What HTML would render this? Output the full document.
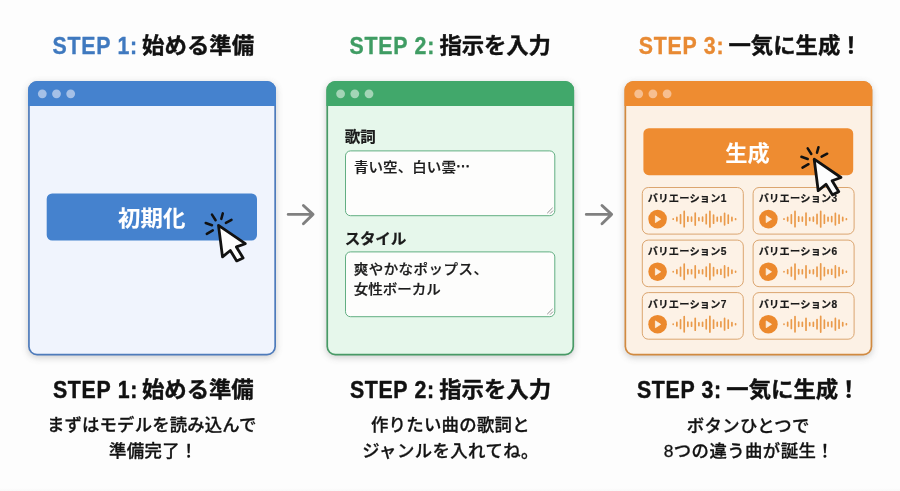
<!DOCTYPE html>
<html lang="ja">
<head>
<meta charset="utf-8">
<title>STEP 1-3</title>
<style>
html,body{margin:0;padding:0;background:#fdfdfd;}
body{width:900px;height:491px;overflow:hidden;font-family:"Liberation Sans","Noto Sans CJK JP",sans-serif;}
svg{display:block;font-family:"Liberation Sans","Noto Sans CJK JP",sans-serif;}
.tx{opacity:0.999;}
</style>
</head>
<body>
<svg class="tx" width="900" height="491" viewBox="0 0 900 491">
<defs>
<filter id="sh" x="-10%" y="-10%" width="120%" height="125%"><feGaussianBlur stdDeviation="3.5"/></filter>
<linearGradient id="bg" x1="0" y1="0" x2="0" y2="1"><stop offset="0" stop-color="#fdfdfd"/><stop offset="0.994" stop-color="#fdfdfd"/><stop offset="1" stop-color="#f8f8f8"/></linearGradient>
</defs>
<rect width="900" height="491" fill="url(#bg)"/>
<text transform="translate(52.50 53.65) scale(0.9 1)" font-size="23.7" font-weight="700" fill="#3f79bf" stroke="#3f79bf" stroke-width="0.35" stroke-linejoin="round" textLength="94.09" lengthAdjust="spacing">STEP 1:</text>
<text transform="translate(142.00 52.90) scale(1 0.95)" font-size="22.4" font-weight="700" fill="#111" stroke="#111" stroke-width="0.4" stroke-linejoin="round" textLength="112.20" lengthAdjust="spacing">始める準備</text>
<text transform="translate(349.60 53.65) scale(0.9 1)" font-size="23.7" font-weight="700" fill="#3f9c63" stroke="#3f9c63" stroke-width="0.35" stroke-linejoin="round" textLength="94.09" lengthAdjust="spacing">STEP 2:</text>
<text transform="translate(439.45 52.90) scale(1 0.95)" font-size="22.4" font-weight="700" fill="#111" stroke="#111" stroke-width="0.4" stroke-linejoin="round" textLength="111.45" lengthAdjust="spacing">指示を入力</text>
<text transform="translate(638.70 53.53) scale(0.9 1)" font-size="23.7" font-weight="700" fill="#e88a33" stroke="#e88a33" stroke-width="0.35" stroke-linejoin="round" textLength="94.37" lengthAdjust="spacing">STEP 3:</text>
<text transform="translate(728.45 52.90) scale(1 0.95)" font-size="22.4" font-weight="700" fill="#111" stroke="#111" stroke-width="0.4" stroke-linejoin="round">一気に生成<tspan dx="-0.7">！</tspan></text>
<rect x="28.1" y="83.1" width="247.9" height="274.4" rx="9" fill="#5a5a5a" opacity="0.30" filter="url(#sh)"/>
<rect x="28.1" y="81.1" width="247.9" height="274.4" rx="9" fill="#4e7bbb"/>
<path d="M28.1 106.1V90.1a9 9 0 0 1 9 -9H267.0a9 9 0 0 1 9 9V106.1Z" fill="#4582ce"/>
<path d="M29.8 106.1H274.3V346.5a7.3 7.3 0 0 1 -7.3 7.3H37.1a7.3 7.3 0 0 1 -7.3 -7.3Z" fill="#f0f4fd"/>
<circle cx="42.3" cy="93.8" r="4.4" fill="#a5c0e7"/>
<circle cx="56.5" cy="93.8" r="4.4" fill="#a5c0e7"/>
<circle cx="70.7" cy="93.8" r="4.4" fill="#a5c0e7"/>
<rect x="46.7" y="193.4" width="210.3" height="47.2" rx="5.5" fill="#4582ce"/>
<text transform="translate(118.10 225.52) scale(1 0.95)" font-size="22.4" font-weight="700" fill="#fff" stroke="#fff" stroke-width="0.1" stroke-linejoin="round" textLength="67.42" lengthAdjust="spacing">初期化</text>
<g transform="translate(218.5 225.4)">
<g stroke="#111" stroke-width="2.5" stroke-linecap="round" fill="none">
<path d="M-6.5 -10.8L-2.9 -5.2"/><path d="M4.3 -12L2.8 -6.5"/><path d="M13 -5.5L7.4 -2.5"/><path d="M-12.8 -2.4L-6.5 -0.2"/><path d="M-11.7 8.5L-5.7 5"/>
</g>
<path d="M0 0L4 31.5L11.8 25.1L18.2 35.5L24.6 32.5L17.9 21.5L26.8 18.3Z" fill="#fdfdfd" stroke="#111" stroke-width="2.8" stroke-linejoin="round"/>
</g>
<path d="M288.2 214.4H313M303.4 205.5L313 214.4L303.4 223.7" fill="none" stroke="#808080" stroke-width="2.9" stroke-linecap="round" stroke-linejoin="round"/>
<rect x="326.4" y="83.1" width="247.7" height="274.4" rx="9" fill="#5a5a5a" opacity="0.30" filter="url(#sh)"/>
<rect x="326.4" y="81.1" width="247.7" height="274.4" rx="9" fill="#489a66"/>
<path d="M326.4 106.1V90.1a9 9 0 0 1 9 -9H565.0999999999999a9 9 0 0 1 9 9V106.1Z" fill="#41a86b"/>
<path d="M328.09999999999997 106.1H572.4V346.5a7.3 7.3 0 0 1 -7.3 7.3H335.4a7.3 7.3 0 0 1 -7.3 -7.3Z" fill="#e6f7eb"/>
<circle cx="340.6" cy="93.8" r="4.4" fill="#a3d5b6"/>
<circle cx="354.8" cy="93.8" r="4.4" fill="#a3d5b6"/>
<circle cx="369.0" cy="93.8" r="4.4" fill="#a3d5b6"/>
<text transform="translate(344.75 142.05) scale(1 0.97)" font-size="15.6" font-weight="700" fill="#1a1a1a" stroke="#1a1a1a" stroke-width="0.25" stroke-linejoin="round" textLength="31.20" lengthAdjust="spacing">歌詞</text>
<rect x="345.5" y="150.9" width="209.3" height="64.8" rx="5" fill="#fdfdfc" stroke="#62ae82" stroke-width="1"/>
<text transform="translate(353.95 171.55) scale(1 0.95)" font-size="14.5" font-weight="500" fill="#1c1c1c" stroke="#1c1c1c" stroke-width="0.25" stroke-linejoin="round" textLength="102.00" lengthAdjust="spacing">青い空、白い雲</text>
<text x="455.70" y="166.77" font-size="14.5" font-weight="500" fill="#1c1c1c" stroke="#1c1c1c" stroke-width="0.8" stroke-linejoin="round">…</text>
<path d="M547.2 213.2L552.6 207.8M550 213.6L553 210.6" stroke="#777" stroke-width="0.8" fill="none"/>
<text transform="translate(344.65 243.82) scale(1 0.97)" font-size="15.6" font-weight="700" fill="#1a1a1a" stroke="#1a1a1a" stroke-width="0.25" stroke-linejoin="round" textLength="61.64" lengthAdjust="spacing">スタイル</text>
<rect x="345.5" y="251.9" width="209.3" height="64.8" rx="5" fill="#fdfdfc" stroke="#62ae82" stroke-width="1"/>
<text transform="translate(353.70 273.83) scale(1 0.95)" font-size="14.5" font-weight="500" fill="#1c1c1c" stroke="#1c1c1c" stroke-width="0.25" stroke-linejoin="round" textLength="134.25" lengthAdjust="spacing">爽やかなポップス、</text>
<text transform="translate(353.70 293.75) scale(1 0.95)" font-size="14.5" font-weight="500" fill="#1c1c1c" stroke="#1c1c1c" stroke-width="0.25" stroke-linejoin="round" textLength="87.00" lengthAdjust="spacing">女性ボーカル</text>
<path d="M547.2 314.2L552.6 308.8M550 314.6L553 311.6" stroke="#777" stroke-width="0.8" fill="none"/>
<path d="M586.3 214.4H611.6M602.0 205.5L611.6 214.4L602.0 223.7" fill="none" stroke="#808080" stroke-width="2.9" stroke-linecap="round" stroke-linejoin="round"/>
<rect x="624.5" y="83.1" width="247.8" height="274.4" rx="9" fill="#5a5a5a" opacity="0.30" filter="url(#sh)"/>
<rect x="624.5" y="81.1" width="247.8" height="274.4" rx="9" fill="#d18a40"/>
<path d="M624.5 106.1V90.1a9 9 0 0 1 9 -9H863.3a9 9 0 0 1 9 9V106.1Z" fill="#ee8c31"/>
<path d="M626.2 106.1H870.6V346.5a7.3 7.3 0 0 1 -7.3 7.3H633.5a7.3 7.3 0 0 1 -7.3 -7.3Z" fill="#fcf1e5"/>
<circle cx="638.7" cy="93.8" r="4.4" fill="#f7bf90"/>
<circle cx="652.9" cy="93.8" r="4.4" fill="#f7bf90"/>
<circle cx="667.1" cy="93.8" r="4.4" fill="#f7bf90"/>
<rect x="643.4" y="128.2" width="209.8" height="47" rx="5.5" fill="#ee8c31"/>
<text transform="translate(725.15 160.62) scale(1 0.95)" font-size="22.2" font-weight="700" fill="#fff" stroke="#fff" stroke-width="0.1" stroke-linejoin="round" textLength="44.63" lengthAdjust="spacing">生成</text>
<rect x="642.3" y="187.5" width="101" height="46.6" rx="6" fill="#fdf2e6" stroke="#dba56f" stroke-width="1"/>
<text x="647.85" y="202.48" font-size="10.2" font-weight="700" fill="#1a1a1a" stroke="#1a1a1a" stroke-width="0.2" stroke-linejoin="round" textLength="78.53" lengthAdjust="spacing">バリエーション1</text>
<circle cx="657.6" cy="219.1" r="9.3" fill="#ec892d"/>
<path d="M655.4 215.8L660.7 219.2L655.4 222.6Z" fill="#fdeedd" stroke="#fdeedd" stroke-width="0.8" stroke-linejoin="round"/>
<path d="M673.20 218.95V219.25M676.87 217.35V220.85M680.54 214.85V223.35M684.21 211.45V226.75M687.88 216.95V221.25M691.55 217.15V221.05M695.22 213.15V225.05M698.89 217.75V220.45M702.56 217.15V221.05M706.23 214.45V223.75M709.90 211.25V226.95M713.57 215.05V223.15M717.24 217.25V220.95M720.91 216.65V221.55M724.58 213.35V224.85M728.25 215.05V223.15M731.92 217.45V220.75M735.59 218.75V219.45" stroke="#ea9a4a" stroke-width="1.7" stroke-linecap="round" fill="none"/>
<rect x="753.1" y="187.5" width="101" height="46.6" rx="6" fill="#fdf2e6" stroke="#dba56f" stroke-width="1"/>
<text x="758.65" y="202.48" font-size="10.2" font-weight="700" fill="#1a1a1a" stroke="#1a1a1a" stroke-width="0.2" stroke-linejoin="round" textLength="78.53" lengthAdjust="spacing">バリエーション3</text>
<circle cx="768.4" cy="219.1" r="9.3" fill="#ec892d"/>
<path d="M766.2 215.8L771.5 219.2L766.2 222.6Z" fill="#fdeedd" stroke="#fdeedd" stroke-width="0.8" stroke-linejoin="round"/>
<path d="M784.00 218.95V219.25M787.67 217.35V220.85M791.34 214.85V223.35M795.01 211.45V226.75M798.68 216.95V221.25M802.35 217.15V221.05M806.02 213.15V225.05M809.69 217.75V220.45M813.36 217.15V221.05M817.03 214.45V223.75M820.70 211.25V226.95M824.37 215.05V223.15M828.04 217.25V220.95M831.71 216.65V221.55M835.38 213.35V224.85M839.05 215.05V223.15M842.72 217.45V220.75M846.39 218.75V219.45" stroke="#ea9a4a" stroke-width="1.7" stroke-linecap="round" fill="none"/>
<rect x="642.3" y="240.1" width="101" height="46.6" rx="6" fill="#fdf2e6" stroke="#dba56f" stroke-width="1"/>
<text x="647.85" y="255.08" font-size="10.2" font-weight="700" fill="#1a1a1a" stroke="#1a1a1a" stroke-width="0.2" stroke-linejoin="round" textLength="78.53" lengthAdjust="spacing">バリエーション5</text>
<circle cx="657.6" cy="271.7" r="9.3" fill="#ec892d"/>
<path d="M655.4 268.4L660.7 271.8L655.4 275.2Z" fill="#fdeedd" stroke="#fdeedd" stroke-width="0.8" stroke-linejoin="round"/>
<path d="M673.20 271.55V271.85M676.87 269.95V273.45M680.54 267.45V275.95M684.21 264.05V279.35M687.88 269.55V273.85M691.55 269.75V273.65M695.22 265.75V277.65M698.89 270.35V273.05M702.56 269.75V273.65M706.23 267.05V276.35M709.90 263.85V279.55M713.57 267.65V275.75M717.24 269.85V273.55M720.91 269.25V274.15M724.58 265.95V277.45M728.25 267.65V275.75M731.92 270.05V273.35M735.59 271.35V272.05" stroke="#ea9a4a" stroke-width="1.7" stroke-linecap="round" fill="none"/>
<rect x="753.1" y="240.1" width="101" height="46.6" rx="6" fill="#fdf2e6" stroke="#dba56f" stroke-width="1"/>
<text x="758.65" y="255.08" font-size="10.2" font-weight="700" fill="#1a1a1a" stroke="#1a1a1a" stroke-width="0.2" stroke-linejoin="round" textLength="78.53" lengthAdjust="spacing">バリエーション6</text>
<circle cx="768.4" cy="271.7" r="9.3" fill="#ec892d"/>
<path d="M766.2 268.4L771.5 271.8L766.2 275.2Z" fill="#fdeedd" stroke="#fdeedd" stroke-width="0.8" stroke-linejoin="round"/>
<path d="M784.00 271.55V271.85M787.67 269.95V273.45M791.34 267.45V275.95M795.01 264.05V279.35M798.68 269.55V273.85M802.35 269.75V273.65M806.02 265.75V277.65M809.69 270.35V273.05M813.36 269.75V273.65M817.03 267.05V276.35M820.70 263.85V279.55M824.37 267.65V275.75M828.04 269.85V273.55M831.71 269.25V274.15M835.38 265.95V277.45M839.05 267.65V275.75M842.72 270.05V273.35M846.39 271.35V272.05" stroke="#ea9a4a" stroke-width="1.7" stroke-linecap="round" fill="none"/>
<rect x="642.3" y="292.6" width="101" height="46.6" rx="6" fill="#fdf2e6" stroke="#dba56f" stroke-width="1"/>
<text x="647.85" y="307.58" font-size="10.2" font-weight="700" fill="#1a1a1a" stroke="#1a1a1a" stroke-width="0.2" stroke-linejoin="round" textLength="78.53" lengthAdjust="spacing">バリエーション7</text>
<circle cx="657.6" cy="324.2" r="9.3" fill="#ec892d"/>
<path d="M655.4 320.9L660.7 324.3L655.4 327.7Z" fill="#fdeedd" stroke="#fdeedd" stroke-width="0.8" stroke-linejoin="round"/>
<path d="M673.20 324.05V324.35M676.87 322.45V325.95M680.54 319.95V328.45M684.21 316.55V331.85M687.88 322.05V326.35M691.55 322.25V326.15M695.22 318.25V330.15M698.89 322.85V325.55M702.56 322.25V326.15M706.23 319.55V328.85M709.90 316.35V332.05M713.57 320.15V328.25M717.24 322.35V326.05M720.91 321.75V326.65M724.58 318.45V329.95M728.25 320.15V328.25M731.92 322.55V325.85M735.59 323.85V324.55" stroke="#ea9a4a" stroke-width="1.7" stroke-linecap="round" fill="none"/>
<rect x="753.1" y="292.6" width="101" height="46.6" rx="6" fill="#fdf2e6" stroke="#dba56f" stroke-width="1"/>
<text x="758.65" y="307.58" font-size="10.2" font-weight="700" fill="#1a1a1a" stroke="#1a1a1a" stroke-width="0.2" stroke-linejoin="round" textLength="78.53" lengthAdjust="spacing">バリエーション8</text>
<circle cx="768.4" cy="324.2" r="9.3" fill="#ec892d"/>
<path d="M766.2 320.9L771.5 324.3L766.2 327.7Z" fill="#fdeedd" stroke="#fdeedd" stroke-width="0.8" stroke-linejoin="round"/>
<path d="M784.00 324.05V324.35M787.67 322.45V325.95M791.34 319.95V328.45M795.01 316.55V331.85M798.68 322.05V326.35M802.35 322.25V326.15M806.02 318.25V330.15M809.69 322.85V325.55M813.36 322.25V326.15M817.03 319.55V328.85M820.70 316.35V332.05M824.37 320.15V328.25M828.04 322.35V326.05M831.71 321.75V326.65M835.38 318.45V329.95M839.05 320.15V328.25M842.72 322.55V325.85M846.39 323.85V324.55" stroke="#ea9a4a" stroke-width="1.7" stroke-linecap="round" fill="none"/>
<g transform="translate(814.2 159.2)">
<g stroke="#111" stroke-width="2.5" stroke-linecap="round" fill="none">
<path d="M-6.5 -10.8L-2.9 -5.2"/><path d="M4.3 -12L2.8 -6.5"/><path d="M13 -5.5L7.4 -2.5"/><path d="M-12.8 -2.4L-6.5 -0.2"/><path d="M-11.7 8.5L-5.7 5"/>
</g>
<path d="M0 0L4 31.5L11.8 25.1L18.2 35.5L24.6 32.5L17.9 21.5L26.8 18.3Z" fill="#fdfdfd" stroke="#111" stroke-width="2.8" stroke-linejoin="round"/>
</g>
<text transform="translate(52.90 397.88) scale(0.9 1)" font-size="23.7" font-weight="700" fill="#111" stroke="#111" stroke-width="0.45" stroke-linejoin="round" textLength="93.81" lengthAdjust="spacing">STEP 1:</text>
<text transform="translate(142.00 397.20) scale(1 0.95)" font-size="22.4" font-weight="700" fill="#111" stroke="#111" stroke-width="0.4" stroke-linejoin="round" textLength="111.70" lengthAdjust="spacing">始める準備</text>
<text transform="translate(349.90 397.88) scale(0.9 1)" font-size="23.7" font-weight="700" fill="#111" stroke="#111" stroke-width="0.45" stroke-linejoin="round" textLength="93.53" lengthAdjust="spacing">STEP 2:</text>
<text transform="translate(439.15 397.20) scale(1 0.95)" font-size="22.4" font-weight="700" fill="#111" stroke="#111" stroke-width="0.4" stroke-linejoin="round" textLength="111.95" lengthAdjust="spacing">指示を入力</text>
<text transform="translate(637.00 397.88) scale(0.9 1)" font-size="23.7" font-weight="700" fill="#111" stroke="#111" stroke-width="0.45" stroke-linejoin="round" textLength="93.53" lengthAdjust="spacing">STEP 3:</text>
<text transform="translate(726.35 397.20) scale(1 0.95)" font-size="22.4" font-weight="700" fill="#111" stroke="#111" stroke-width="0.4" stroke-linejoin="round">一気に生成<tspan dx="-0.7">！</tspan></text>
<text x="47.00" y="431.45" font-size="17.4" font-weight="500" fill="#131313" stroke="#131313" stroke-width="0.3" stroke-linejoin="round" textLength="209.33" lengthAdjust="spacing">まずはモデルを読み込んで</text>
<text x="108.90" y="456.90" font-size="17.4" font-weight="500" fill="#131313" stroke="#131313" stroke-width="0.3" stroke-linejoin="round" textLength="88.47" lengthAdjust="spacing">準備完了！</text>
<text x="370.90" y="431.38" font-size="17.4" font-weight="500" fill="#131313" stroke="#131313" stroke-width="0.3" stroke-linejoin="round" textLength="158.78" lengthAdjust="spacing">作りたい曲の歌詞と</text>
<text x="362.15" y="456.78" font-size="17.4" font-weight="500" fill="#131313" stroke="#131313" stroke-width="0.3" stroke-linejoin="round" textLength="176.27" lengthAdjust="spacing">ジャンルを入れてね。</text>
<text x="686.85" y="432.10" font-size="17.4" font-weight="500" fill="#131313" stroke="#131313" stroke-width="0.3" stroke-linejoin="round" textLength="122.53" lengthAdjust="spacing">ボタンひとつで</text>
<text x="663.70" y="456.90" font-size="17.4" font-weight="500" fill="#131313" stroke="#131313" stroke-width="0.3" stroke-linejoin="round" textLength="169.95" lengthAdjust="spacing">8つの違う曲が誕生！</text>
</svg>
</body>
</html>
